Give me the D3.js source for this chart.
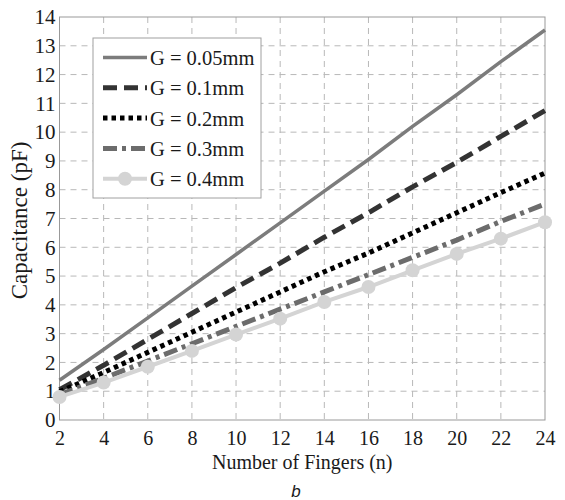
<!DOCTYPE html>
<html>
<head>
<meta charset="utf-8">
<script src="https://cdn.jsdelivr.net/npm/d3@7"></script>
<style>
  html, body { margin: 0; padding: 0; background: #fff; }
  svg { display: block; }
  text { font-family: "Liberation Serif", "Times New Roman", serif; fill: #1a1a1a; }
</style>
</head>
<body>
<svg id="chart" width="565" height="500"></svg>
<script>
// Number of fingers (x values)
const fingers = [2, 4, 6, 8, 10, 12, 14, 16, 18, 20, 22, 24];

// Capacitance (pF) for each finger gap G
const g005 = [1.38, 2.45, 3.55, 4.65, 5.75, 6.85, 7.95, 9.05, 10.2, 11.3, 12.45, 13.55];
const g010 = [1.05, 1.9, 2.8, 3.7, 4.6, 5.45, 6.35, 7.2, 8.1, 8.95, 9.85, 10.75];
const g020 = [0.98, 1.65, 2.35, 3.05, 3.75, 4.45, 5.15, 5.8, 6.5, 7.2, 7.9, 8.58];
const g030 = [0.88, 1.45, 2.05, 2.65, 3.25, 3.85, 4.45, 5.05, 5.65, 6.25, 6.9, 7.5];
const g040 = [0.8, 1.3, 1.85, 2.4, 2.97, 3.52, 4.1, 4.62, 5.2, 5.77, 6.3, 6.87];

const seriesNames = ["G = 0.05mm", "G = 0.1mm", "G = 0.2mm", "G = 0.3mm", "G = 0.4mm"];
const xTicks = [2, 4, 6, 8, 10, 12, 14, 16, 18, 20, 22, 24];
const yTicks = [0, 1, 2, 3, 4, 5, 6, 7, 8, 9, 10, 11, 12, 13, 14];

const xLabel = "Number of Fingers (n)";
const yLabel = "Capacitance (pF)";
const caption = "b";

// Line styles per series
const styles = [
  { color: "#7c7c7c", width: 3.5, dash: null, marker: false },
  { color: "#333333", width: 5, dash: "14,7", marker: false },
  { color: "#000000", width: 5, dash: "4.5,4", marker: false },
  { color: "#6c6c6c", width: 5, dash: "14,5,4,5", marker: false },
  { color: "#d4d4d4", width: 4, dash: null, marker: true }
];

const seriesData = [g005, g010, g020, g030, g040];

const svg = d3.select("#chart");
const plot = { left: 59.5, right: 545, top: 17, bottom: 420 };

const x = d3.scaleLinear().domain([2, 24]).range([plot.left, plot.right]);
const y = d3.scaleLinear().domain([0, 14]).range([plot.bottom, plot.top]);

// Dashed grid
const grid = svg.append("g");
grid.selectAll("line.vx").data(xTicks.slice(1, -1)).join("line")
  .attr("x1", d => x(d)).attr("x2", d => x(d))
  .attr("y1", plot.top).attr("y2", plot.bottom)
  .attr("stroke", "#b8b8b8").attr("stroke-width", 1).attr("stroke-dasharray", "6,5");
grid.selectAll("line.hy").data(yTicks.slice(1, -1)).join("line")
  .attr("x1", plot.left).attr("x2", plot.right)
  .attr("y1", d => y(d)).attr("y2", d => y(d))
  .attr("stroke", "#b8b8b8").attr("stroke-width", 1).attr("stroke-dasharray", "6,5");

// Axes
const xAxis = d3.axisBottom(x).tickValues(xTicks).tickSize(0).tickPadding(11).tickFormat(d3.format("d"));
const yAxis = d3.axisLeft(y).tickValues(yTicks).tickSize(0).tickPadding(4).tickFormat(d3.format("d"));

const gx = svg.append("g").attr("transform", `translate(0,${plot.bottom})`).call(xAxis);
const gy = svg.append("g").attr("transform", `translate(${plot.left},0)`).call(yAxis);
gx.select(".domain").remove();
gy.select(".domain").remove();
gx.selectAll("text").style("font-family", "Liberation Serif, serif")
  .style("font-size", "20px").attr("fill", "#1a1a1a");
gy.selectAll("text").style("font-family", "Liberation Serif, serif")
  .style("font-size", "21px").attr("fill", "#1a1a1a");

// Plot frame
svg.append("rect")
  .attr("x", plot.left).attr("y", plot.top)
  .attr("width", plot.right - plot.left).attr("height", plot.bottom - plot.top)
  .attr("fill", "none").attr("stroke", "#999").attr("stroke-width", 1);

// Series lines
const line = d3.line().x((d, i) => x(fingers[i])).y(d => y(d));
seriesData.forEach((vals, k) => {
  const s = styles[k];
  svg.append("path")
    .datum(vals)
    .attr("d", line)
    .attr("fill", "none")
    .attr("stroke", s.color)
    .attr("stroke-width", s.width)
    .attr("stroke-dasharray", s.dash)
    .attr("stroke-linejoin", "round");
  if (s.marker) {
    svg.append("g").selectAll("circle").data(vals).join("circle")
      .attr("cx", (d, i) => x(fingers[i]))
      .attr("cy", d => y(d))
      .attr("r", 7)
      .attr("fill", s.color);
  }
});

// Legend
const legend = svg.append("g");
legend.append("rect")
  .attr("x", 93).attr("y", 38).attr("width", 168).attr("height", 160)
  .attr("fill", "#fff").attr("stroke", "#a0a0a0").attr("stroke-width", 1);
seriesNames.forEach((name, k) => {
  const s = styles[k];
  const yy = 57.5 + k * 30.3;
  legend.append("line")
    .attr("x1", 103).attr("x2", 147).attr("y1", yy).attr("y2", yy)
    .attr("stroke", s.color).attr("stroke-width", s.width)
    .attr("stroke-dasharray", s.dash);
  if (s.marker) {
    legend.append("circle").attr("cx", 125).attr("cy", yy).attr("r", 7).attr("fill", s.color);
  }
  legend.append("text")
    .attr("x", 150).attr("y", yy + 7.5)
    .style("font-size", "20.5px")
    .text(name);
});

// Axis titles
svg.append("text")
  .attr("x", (plot.left + plot.right) / 2).attr("y", 469)
  .attr("text-anchor", "middle")
  .style("font-size", "20px")
  .text(xLabel);

svg.append("text")
  .attr("transform", `translate(27,${(plot.top + plot.bottom) / 2 + 2}) rotate(-90)`)
  .attr("text-anchor", "middle")
  .style("font-size", "23px")
  .text(yLabel);

// Panel caption
svg.append("text")
  .attr("x", 296).attr("y", 497)
  .attr("text-anchor", "middle")
  .style("font-family", "Liberation Sans, Arial, sans-serif")
  .style("font-style", "italic")
  .style("font-size", "17px")
  .text(caption);
</script>
</body>
</html>
